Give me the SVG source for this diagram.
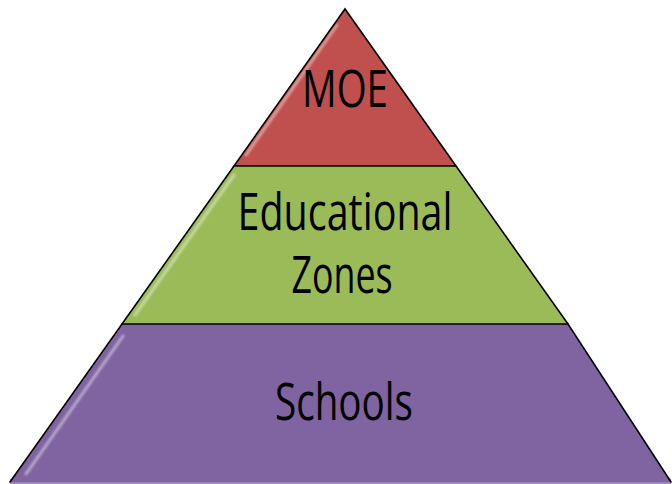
<svg xmlns="http://www.w3.org/2000/svg" width="672" height="484" viewBox="0 0 672 484">
<style>
.lbl{font-family:"Open Sans","Noto Sans","DejaVu Sans",sans-serif;font-size:51px;fill:#000;text-anchor:middle}
.edge{stroke:#000;stroke-width:1.6;fill:none;stroke-linecap:round}
.hl{stroke:#fff;stroke-width:3;stroke-opacity:0.45;fill:none;stroke-linecap:round}
</style>
<defs>
<filter id="soft" x="-10%" y="-10%" width="120%" height="120%"><feGaussianBlur stdDeviation="0.8"/></filter>
</defs>
<rect width="672" height="484" fill="#fff"/>
<g id="moe">
<polygon points="345,9 234,166 456,166" fill="#C0504D"/>
<path class="hl" d="M337,25 L246,155" filter="url(#soft)"/>
<path class="edge" d="M234,166 L345,9 L456,166 Z"/>
<text class="lbl" x="345" y="107" textLength="86" lengthAdjust="spacingAndGlyphs">MOE</text>
</g>
<g id="zones">
<polygon points="234,166 456,166 568,324 122,324" fill="#9BBB59"/>
<path class="hl" d="M234,175 L135,315" filter="url(#soft)"/>
<path class="edge" d="M234,166 L456,166 M122,324 L234,166 M456,166 L568,324"/>
<text class="lbl" x="345" y="230" textLength="215" lengthAdjust="spacingAndGlyphs">Educational</text>
<text class="lbl" x="342" y="293" textLength="101" lengthAdjust="spacingAndGlyphs">Zones</text>
</g>
<g id="schools">
<rect x="10" y="479" width="661" height="5" fill="#9C85B8"/>
<polygon points="122,324 568,324 671,482 10,482" fill="#8064A2"/>
<path class="hl" d="M123,336 L26,474" filter="url(#soft)"/>
<path class="edge" d="M10,482 L122,324 L568,324 L671,482"/>
<text class="lbl" x="344" y="420" textLength="138" lengthAdjust="spacingAndGlyphs">Schools</text>
</g>
<g id="connectors"/>
</svg>
